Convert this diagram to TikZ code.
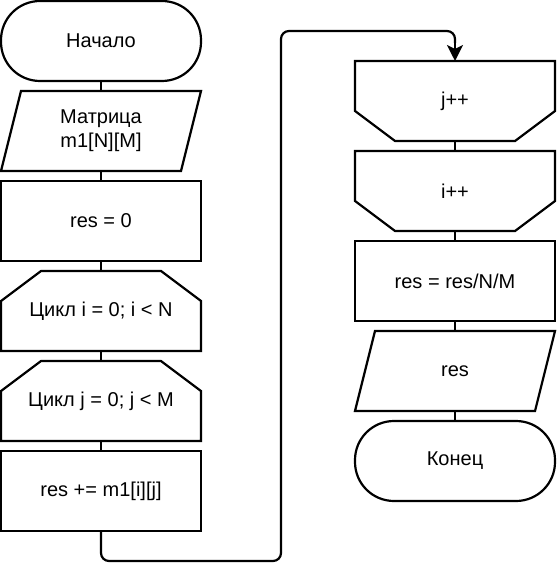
\documentclass[tikz,border=0pt]{standalone}
\usepackage{fontspec}
\setmainfont{Liberation Sans}
\usetikzlibrary{arrows.meta}
\newcommand\fsz{\fontsize{20bp}{24bp}\selectfont}
\begin{document}
\begin{tikzpicture}[x=1bp,y=-1bp,
  box/.style={minimum width=200bp, minimum height=80bp, inner sep=0pt, outer sep=0pt, font=\fsz, align=center},
  outl/.style={line width=2.2bp, line join=miter},
  term/.style={box, draw, line width=2.2bp, rounded corners=39bp},
  rectbox/.style={box, draw, line width=2.2bp},
  conn/.style={line width=2.2bp},
  loopconn/.style={conn, rounded corners=8bp},
  tipconn/.style={conn, -{Stealth[length=16bp,width=16bp,inset=4bp]}}]
\useasboundingbox (0,0) rectangle (557,571);

% left column
\node[term] (start) at (101,41) {Начало};
\node[box] (inp) at (101,131) {Матрица\\m1[N][M]};
\draw[outl] ([xshift=20bp]inp.north west) -- (inp.north east) -- ([xshift=-20bp]inp.south east) -- (inp.south west) -- cycle;
\node[rectbox] (init) at (101,221) {res = 0};
\node[box] (loopi) at (101,311) {Цикл i = 0; i < N};
\draw[outl] ([xshift=40bp]loopi.north west) -- ([xshift=-40bp]loopi.north east) -- ([yshift=-30bp]loopi.north east) -- (loopi.south east) -- (loopi.south west) -- ([yshift=-30bp]loopi.north west) -- cycle;
\node[box] (loopj) at (101,401) {Цикл j = 0; j < M};
\draw[outl] ([xshift=40bp]loopj.north west) -- ([xshift=-40bp]loopj.north east) -- ([yshift=-30bp]loopj.north east) -- (loopj.south east) -- (loopj.south west) -- ([yshift=-30bp]loopj.north west) -- cycle;
\node[rectbox] (body) at (101,491) {res += m1[i][j]};

% right column
\node[box] (jinc) at (455,101) {j++};
\draw[outl] (jinc.north west) -- (jinc.north east) -- ([yshift=30bp]jinc.south east) -- ([xshift=-40bp]jinc.south east) -- ([xshift=40bp]jinc.south west) -- ([yshift=30bp]jinc.south west) -- cycle;
\node[box] (iinc) at (455,191) {i++};
\draw[outl] (iinc.north west) -- (iinc.north east) -- ([yshift=30bp]iinc.south east) -- ([xshift=-40bp]iinc.south east) -- ([xshift=40bp]iinc.south west) -- ([yshift=30bp]iinc.south west) -- cycle;
\node[rectbox] (avg) at (455,281) {res = res/N/M};
\node[box] (outp) at (455,371) {res};
\draw[outl] ([xshift=20bp]outp.north west) -- (outp.north east) -- ([xshift=-20bp]outp.south east) -- (outp.south west) -- cycle;
\node[term] (stop) at (455,461) {Конец};

% connectors
\draw[conn] (start) -- (inp);
\draw[conn] (inp) -- (init);
\draw[conn] (init) -- (loopi);
\draw[conn] (loopi) -- (loopj);
\draw[conn] (loopj) -- (body);
\draw[conn] (jinc) -- (iinc);
\draw[conn] (iinc) -- (avg);
\draw[conn] (avg) -- (outp);
\draw[conn] (outp) -- (stop);

\coordinate (b1) at (101,561);
\coordinate (b2) at (281,561);
\coordinate (t1) at (281,31);
\coordinate (t2) at (455,31);
\coordinate (t3) at (455,43);
\draw[loopconn] (body.south) -- (b1) -- (b2) -- (t1) -- (t2) -- (t3);
\draw[tipconn] (t3) -- (jinc.north);
\end{tikzpicture}
\end{document}
